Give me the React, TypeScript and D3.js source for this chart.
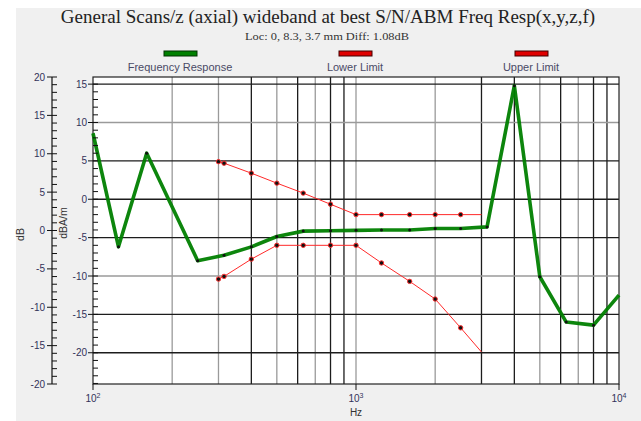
import React from "react";
import * as d3 from "d3";

// third-octave bands of the measured response
const respHz = [100, 125, 160, 250, 315, 400, 500, 630, 800, 1000, 1250, 1600, 2000, 2500, 3150, 4000, 5000, 6300, 8000, 10000];
const respDb = [8.6, -6.2, 6.0, -8.0, -7.3, -6.2, -4.85, -4.15, -4.1, -4.05, -4.0, -4.0, -3.8, -3.8, -3.6, 14.8, -10.1, -16.0, -16.4, -12.5];

const limitHz = [300, 315, 400, 500, 630, 800, 1000, 1250, 1600, 2000, 2500, 3000];
const upperDb = [4.9, 4.7, 3.4, 2.1, 0.8, -0.65, -2, -2, -2, -2, -2, -2];
const lowerDb = [-10.4, -10.05, -7.8, -6, -6, -6, -6, -8.3, -10.7, -13.0, -16.75, -19.9];

const dbTicks = [20, 15, 10, 5, 0, -5, -10, -15, -20];
const dbaTicks = [15, 10, 5, 0, -5, -10, -15, -20];
const hzTicks = [100, 1000, 10000];
const hzLabels = ["2", "3", "4"];
const gridHz = [200, 300, 400, 500, 600, 700, 800, 900, 1000, 2000, 3000, 4000, 5000, 6000, 7000, 8000, 9000];
const darkHz = [400, 600, 800, 900, 3000, 4000, 6000, 8000, 9000];
const lightDba = [10, -10];

const legendNames = ["Frequency Response", "Lower Limit", "Upper Limit"];

const L = 93, R = 619, T = 77, B = 384;
const sans = "'Liberation Sans', Arial, sans-serif";
const tickColor = "#33335a";

export default function App() {
  const x = d3.scaleLog().domain([100, 10000]).range([L, R]);
  const yDb = d3.scaleLinear().domain([-20, 20]).range([B, T]);
  const yDba = d3.scaleLinear().domain([-24.07, 15.93]).range([B, T]);

  const resp = respHz.map((f, i) => [f, respDb[i]] as [number, number]);
  const upper = limitHz.map((f, i) => [f, upperDb[i]] as [number, number]);
  const lower = limitHz.map((f, i) => [f, lowerDb[i]] as [number, number]);
  const line = d3.line<[number, number]>().x((d) => x(d[0])).y((d) => yDba(d[1]));

  const dbMinor = d3.range(-20, 21, 1);
  const dbaMinor = d3.range(-24, 16, 1);

  const legendX = [180, 355, 531];
  const legendColor = ["#008000", "#e00000", "#e00000"];

  return (
    <div style={{ position: "absolute", left: 0, top: 0 }}>
      <svg width={641} height={421} style={{ display: "block" }}>
        <rect x={0} y={0} width={641} height={421} fill="#ffffff" />
        <rect x={16} y={8} width={625} height={413} fill="#f0f0f0" />

        <text x={328} y={23} textAnchor="middle" fontFamily="'Liberation Serif', 'Times New Roman', serif" fontSize={19} fill="#222">
          General Scans/z (axial) wideband at best S/N/ABM Freq Resp(x,y,z,f)
        </text>
        <text x={327} y={40} textAnchor="middle" fontFamily="'Liberation Serif', serif" fontSize={10.5} fill="#333" textLength={164} lengthAdjust="spacingAndGlyphs">
          Loc: 0, 8.3, 3.7 mm Diff: 1.08dB
        </text>

        {legendNames.map((n, i) => (
          <g key={n}>
            <rect x={legendX[i] - 16} y={51} width={33} height={5} fill={legendColor[i]} stroke={i === 0 ? "#003300" : "#400000"} strokeWidth={1} />
            <text x={legendX[i]} y={71} textAnchor="middle" fontFamily={sans} fontSize={11} fill="#4a4a66">{n}</text>
          </g>
        ))}

        <rect x={L} y={T} width={R - L} height={B - T} fill="#ffffff" />

        {/* grid */}
        {gridHz.map((f) => (
          <line key={"v" + f} x1={x(f)} x2={x(f)} y1={T} y2={B} stroke={darkHz.includes(f) ? "#1c1c1c" : "#9a9a9a"} strokeWidth={1.3} />
        ))}
        {dbaTicks.map((v) => (
          <line key={"h" + v} x1={L} x2={R} y1={yDba(v)} y2={yDba(v)} stroke={lightDba.includes(v) ? "#9a9a9a" : "#1c1c1c"} strokeWidth={1.3} />
        ))}

        {/* plot frame */}
        <rect x={L} y={T} width={R - L} height={B - T} fill="none" stroke="#222" strokeWidth={1.2} />

        {/* limits */}
        <path d={line(upper) || ""} fill="none" stroke="#ff2a2a" strokeWidth={1} />
        <path d={line(lower) || ""} fill="none" stroke="#ff2a2a" strokeWidth={1} />
        {[upper, lower].map((s, k) =>
          s.slice(0, -1).map((d, i) => (
            <circle key={k + "-" + i} cx={x(d[0])} cy={yDba(d[1])} r={2.2} fill="#111" stroke="#ff3030" strokeWidth={1} />
          ))
        )}

        {/* response */}
        <path d={line(resp) || ""} fill="none" stroke="#008000" strokeWidth={3.6} strokeLinejoin="round" opacity={0.95} />
        {resp.slice(1, -1).map((d, i) => (
          <circle key={"r" + i} cx={x(d[0])} cy={yDba(d[1])} r={1.5} fill="#111" />
        ))}

        {/* outer dB axis */}
        <line x1={52} x2={52} y1={yDb(20)} y2={yDb(-20)} stroke="#111" strokeWidth={1.2} />
        {dbMinor.map((v) => (
          <line key={"dm" + v} x1={52} x2={57} y1={yDb(v)} y2={yDb(v)} stroke="#111" strokeWidth={1} />
        ))}
        {dbTicks.map((v) => (
          <g key={"dt" + v}>
            <line x1={47} x2={52} y1={yDb(v)} y2={yDb(v)} stroke="#111" strokeWidth={1} />
            <text x={45} y={yDb(v)} dy="0.35em" textAnchor="end" fontFamily={sans} fontSize={10} fill={tickColor}>{v}</text>
          </g>
        ))}
        <text transform={`translate(24,${yDb(0) + 4}) rotate(-90)`} textAnchor="middle" fontFamily={sans} fontSize={10.5} fill="#333">dB</text>

        {/* inner dBA/m axis */}
        {dbaMinor.map((v) => (
          <line key={"am" + v} x1={L} x2={L + 5} y1={yDba(v)} y2={yDba(v)} stroke="#111" strokeWidth={1} />
        ))}
        {dbaTicks.map((v) => (
          <g key={"at" + v}>
            <line x1={L - 5} x2={L} y1={yDba(v)} y2={yDba(v)} stroke="#111" strokeWidth={1} />
            <text x={87} y={yDba(v)} dy="0.35em" textAnchor="end" fontFamily={sans} fontSize={10} fill={tickColor}>{v}</text>
          </g>
        ))}
        <text transform={`translate(67,223) rotate(-90)`} textAnchor="middle" fontFamily={sans} fontSize={10.5} fill="#333">dBA/m</text>

        {/* Hz axis */}
        {hzTicks.map((f, i) => (
          <g key={"x" + f}>
            <line x1={x(f)} x2={x(f)} y1={B} y2={B + 6} stroke="#111" strokeWidth={1} />
            <text x={x(f)} y={402} textAnchor="middle" fontFamily={sans} fontSize={10} fill={tickColor}>
              10<tspan dy={-4} fontSize={7}>{hzLabels[i]}</tspan>
            </text>
          </g>
        ))}
        <text x={x(1000)} y={416} textAnchor="middle" fontFamily={sans} fontSize={10} fill="#333">Hz</text>
      </svg>
    </div>
  );
}
